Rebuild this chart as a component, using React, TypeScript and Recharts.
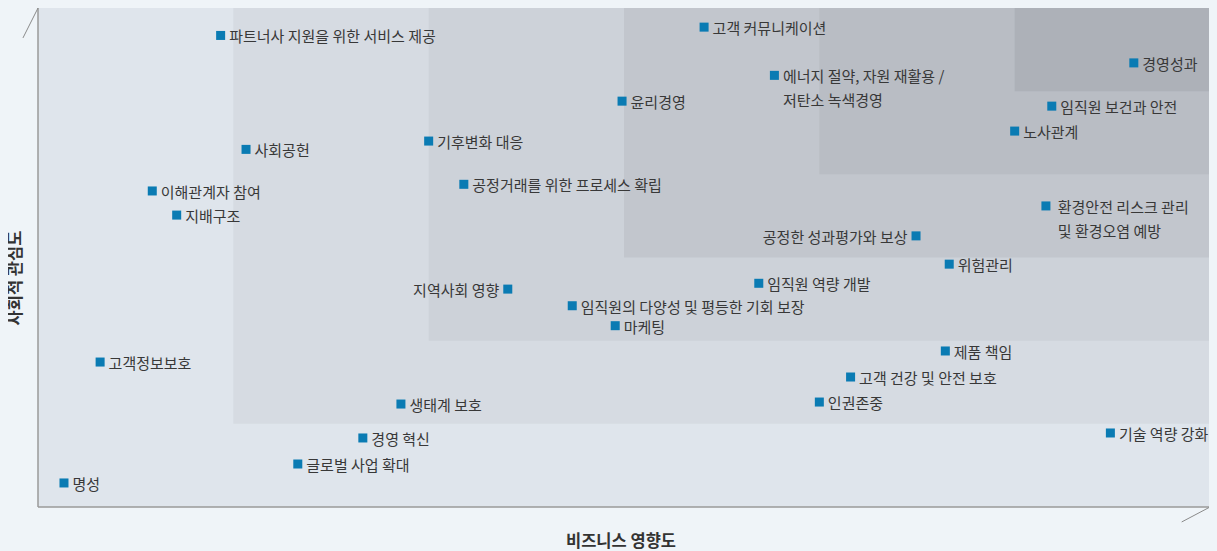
import React from "react";
import {
  ScatterChart,
  Scatter,
  XAxis,
  YAxis,
  ReferenceArea,
  ReferenceLine,
} from "recharts";

if (typeof document !== "undefined") {
  document.body.style.background = "#eff4f8";
}

// Issue names (\n = line break)
const issueNames: string[] = [
  "파트너사 지원을 위한 서비스 제공",
  "고객 커뮤니케이션",
  "경영성과",
  "에너지 절약, 자원 재활용 /\n저탄소 녹색경영",
  "윤리경영",
  "임직원 보건과 안전",
  "노사관계",
  "기후변화 대응",
  "사회공헌",
  "공정거래를 위한 프로세스 확립",
  "이해관계자 참여",
  " 환경안전 리스크 관리\n 및 환경오염 예방",
  "지배구조",
  "공정한 성과평가와 보상",
  "위험관리",
  "임직원 역량 개발",
  "지역사회 영향",
  "임직원의 다양성 및 평등한 기회 보장",
  "마케팅",
  "제품 책임",
  "고객정보보호",
  "고객 건강 및 안전 보호",
  "생태계 보호",
  "인권존중",
  "기술 역량 강화",
  "경영 혁신",
  "글로벌 사업 확대",
  "명성",
];

// 비즈니스 영향도 (x)
const businessImpact: number[] = [
  0.935, 3.41, 5.61, 3.77, 2.99, 5.19, 5.0, 2.0, 1.065, 2.18, 0.585, 5.16,
  0.71, 4.495, 4.665, 3.69, 2.405, 2.735, 2.955, 4.645, 0.318, 4.16, 1.858,
  4.0, 5.49, 1.663, 1.33, 0.133,
];

// 사회적 관심도 (y)
const socialInterest: number[] = [
  5.67, 5.77, 5.34, 5.19, 4.88, 4.82, 4.52, 4.4, 4.3, 3.88, 3.8, 3.62, 3.51,
  3.26, 2.92, 2.69, 2.62, 2.42, 2.18, 1.876, 1.743, 1.563, 1.238, 1.262, 0.89,
  0.83, 0.517, 0.289,
];

// Labels drawn to the left of their marker
const leftLabelIssues: string[] = ["공정한 성과평가와 보상", "지역사회 영향"];

// Nested background zones (lower-left corner, up to top-right)
const zoneStarts: number[] = [0, 1, 2, 3, 4, 5];
const zoneColors: string[] = [
  "#dfe5ec",
  "#d6dbe2",
  "#cdd2d9",
  "#c2c6cd",
  "#b9bdc4",
  "#adb1b8",
];

const data = issueNames.map((name, i) => ({
  name,
  x: businessImpact[i],
  y: socialInterest[i],
}));

const IssueShape = (props: any) => {
  const { cx, cy, payload } = props;
  if (cx == null || cy == null) return null;
  const left = leftLabelIssues.includes(payload.name);
  const lines: string[] = String(payload.name).split("\n");
  const tx = left ? cx - 8.5 : cx + 8.5;
  return (
    <g>
      <rect x={cx - 4.5} y={cy - 4.5} width={9} height={9} fill="#0a7bb3" />
      <text
        x={tx}
        y={cy}
        textAnchor={left ? "end" : "start"}
        dominantBaseline="central"
        fontSize={15}
        fill="#383838"
        fontFamily="'Noto Sans CJK KR', 'Noto Sans', sans-serif"
        style={{ whiteSpace: "pre" }}
      >
        {lines.map((ln, k) => (
          <tspan key={k} x={tx} dy={k === 0 ? 0 : 24} xmlSpace="preserve">
            {ln}
          </tspan>
        ))}
      </text>
    </g>
  );
};

export default function App() {
  return (
    <div style={{ position: "relative", width: 1209, height: 543 }}>
      <ScatterChart
        width={1209}
        height={543}
        margin={{ top: 0, right: 7, bottom: 44, left: 30 }}
      >
        <XAxis type="number" dataKey="x" domain={[0, 6]} hide />
        <YAxis type="number" dataKey="y" domain={[0, 6]} hide />
        {zoneStarts.map((s, i) => (
          <ReferenceArea
            key={i}
            x1={s}
            x2={6}
            y1={s}
            y2={6}
            fill={zoneColors[i]}
            fillOpacity={1}
            stroke="none"
            ifOverflow="visible"
          />
        ))}
        <ReferenceLine
          x={0}
          stroke="#9a9a9a"
          strokeWidth={1.5}
          ifOverflow="visible"
        />
        <ReferenceLine
          y={0}
          stroke="#9a9a9a"
          strokeWidth={1.5}
          ifOverflow="visible"
        />
        <ReferenceLine
          segment={[
            { x: -0.077, y: 5.64 },
            { x: 0, y: 6 },
          ]}
          stroke="#8a8a8a"
          strokeWidth={1}
          ifOverflow="visible"
        />
        <ReferenceLine
          segment={[
            { x: 5.855, y: -0.18 },
            { x: 6, y: 0 },
          ]}
          stroke="#8a8a8a"
          strokeWidth={1}
          ifOverflow="visible"
        />
        <Scatter
          data={data}
          dataKey="y"
          shape={<IssueShape />}
          isAnimationActive={false}
        />
      </ScatterChart>
      <div
        style={{
          position: "absolute",
          left: 6 - 60,
          top: 270 - 10,
          width: 120,
          height: 20,
          lineHeight: "20px",
          textAlign: "center",
          transform: "rotate(-90deg)",
          fontSize: 16.5,
          fontWeight: 700,
          color: "#333",
          fontFamily: "'Noto Sans CJK KR', 'Noto Sans', sans-serif",
        }}
      >
        사회적 관심도
      </div>
      <div
        style={{
          position: "absolute",
          left: 613 - 100,
          top: 522,
          width: 200,
          height: 20,
          lineHeight: "20px",
          textAlign: "center",
          fontSize: 16.5,
          fontWeight: 700,
          color: "#333",
          fontFamily: "'Noto Sans CJK KR', 'Noto Sans', sans-serif",
        }}
      >
        비즈니스 영향도
      </div>
    </div>
  );
}
